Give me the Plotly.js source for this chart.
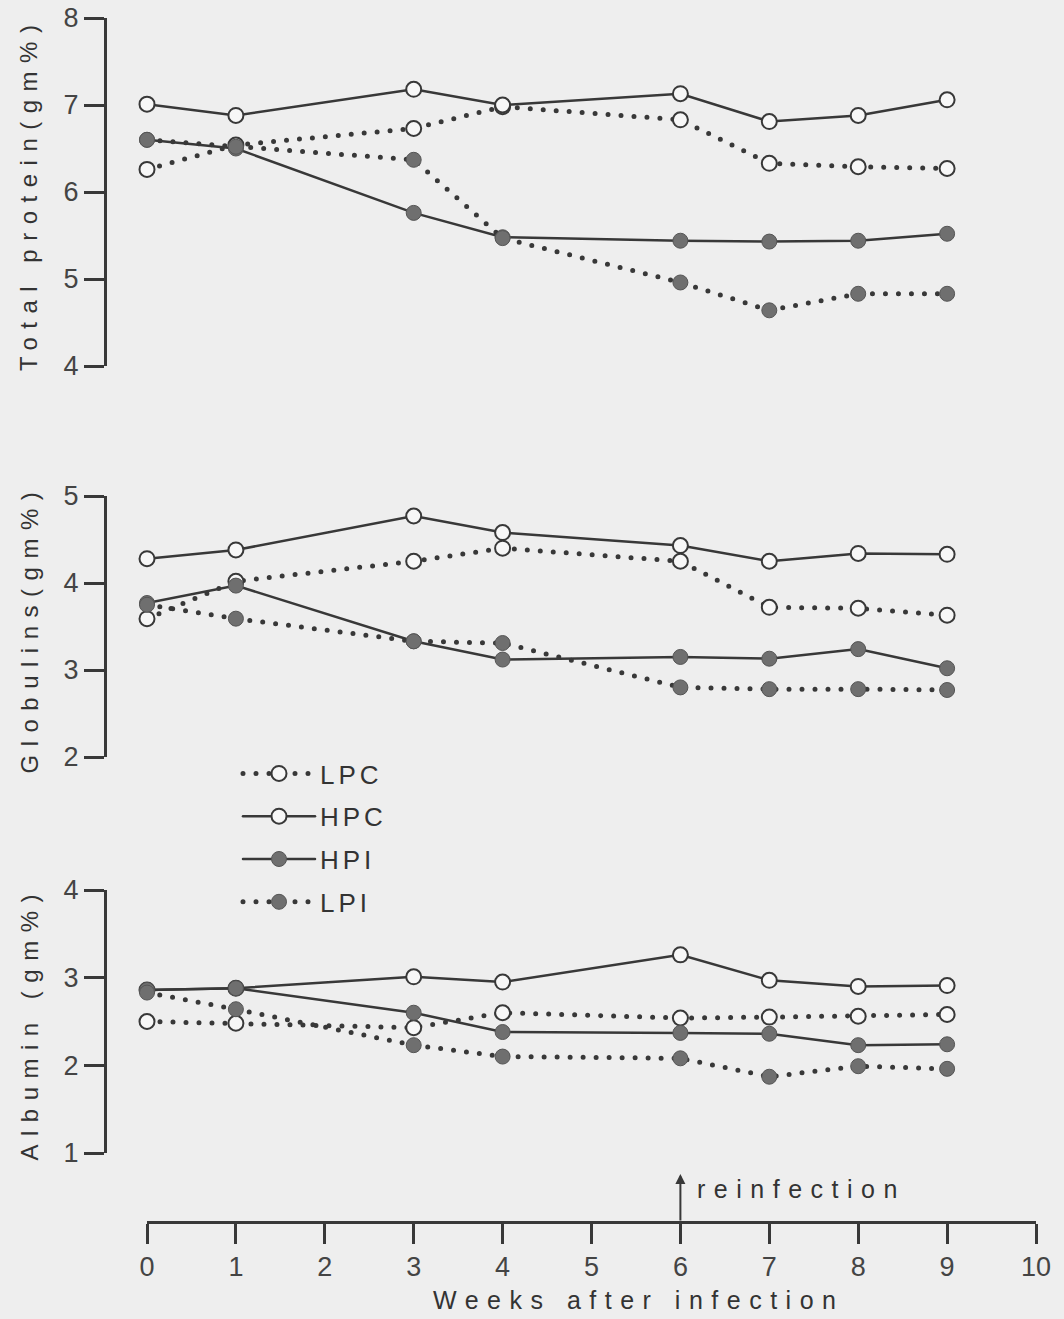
<!DOCTYPE html>
<html>
<head>
<meta charset="utf-8">
<script src="https://cdn.plot.ly/plotly-3.0.1.min.js"></script>
<style>
  html, body { margin: 0; padding: 0; background: #eeeeee; }
  #chart { width: 1064px; height: 1319px; }
  .js-line { stroke-linecap: round; }
  .legendtext { letter-spacing: 4px; }
  .annotation-text { letter-spacing: 8.5px; }
</style>
</head>
<body>
<div id="chart"></div>
<script>
// ---- data ----
const weeks = [0, 1, 3, 4, 6, 7, 8, 9];
const reinfectionWeek = 6;
const xTicks = [0, 1, 2, 3, 4, 5, 6, 7, 8, 9, 10];

// Total protein (gm%)
const totalLPC = [6.26, 6.54, 6.73, 6.98, 6.83, 6.33, 6.29, 6.27];
const totalHPC = [7.01, 6.88, 7.18, 7.00, 7.13, 6.81, 6.88, 7.06];
const totalHPI = [6.60, 6.50, 5.76, 5.48, 5.44, 5.43, 5.44, 5.52];
const totalLPI = [6.60, 6.52, 6.37, 5.47, 4.96, 4.64, 4.83, 4.83];

// Globulins (gm%)
const globLPC = [3.59, 4.02, 4.25, 4.40, 4.25, 3.72, 3.71, 3.63];
const globHPC = [4.28, 4.38, 4.77, 4.58, 4.43, 4.25, 4.34, 4.33];
const globHPI = [3.77, 3.97, 3.33, 3.12, 3.15, 3.13, 3.24, 3.02];
const globLPI = [3.75, 3.59, 3.33, 3.31, 2.80, 2.78, 2.78, 2.77];

// Albumin (gm%)
const albLPC = [2.50, 2.48, 2.43, 2.60, 2.54, 2.55, 2.56, 2.58];
const albHPC = [2.86, 2.88, 3.01, 2.95, 3.26, 2.97, 2.90, 2.91];
const albHPI = [2.86, 2.88, 2.60, 2.38, 2.37, 2.36, 2.23, 2.24];
const albLPI = [2.83, 2.64, 2.23, 2.10, 2.08, 1.87, 1.99, 1.96];

const seriesNames = ['LPC', 'HPC', 'HPI', 'LPI'];
const panelTitles = ['Total protein(gm%)', 'Globulins(gm%)', 'Albumin (gm%)'];
const panels = [
  { axis: 'y',  data: [totalLPC, totalHPC, totalHPI, totalLPI] },
  { axis: 'y2', data: [globLPC, globHPC, globHPI, globLPI] },
  { axis: 'y3', data: [albLPC, albHPC, albHPI, albLPI] }
];

// ---- styles ----
const INK = '#383838';
const styles = {
  LPC: { dash: '0px,13px', width: 5, fill: '#f7f7f7', mline: INK, mwidth: 2 },
  HPC: { dash: 'solid', width: 2.5, fill: '#f7f7f7', mline: INK, mwidth: 2 },
  HPI: { dash: 'solid', width: 2.5, fill: '#6f6f6f', mline: '#555555', mwidth: 1 },
  LPI: { dash: '0px,13px', width: 5, fill: '#6f6f6f', mline: '#555555', mwidth: 1 }
};

const traces = [];
panels.forEach((p, pi) => {
  p.data.forEach((vals, si) => {
    const name = seriesNames[si];
    const s = styles[name];
    traces.push({
      type: 'scatter',
      mode: 'lines+markers',
      x: weeks,
      y: vals,
      xaxis: 'x',
      yaxis: p.axis,
      name: name,
      legendgroup: name,
      showlegend: pi === 0,
      cliponaxis: false,
      line: { color: INK, width: s.width, dash: s.dash },
      marker: { symbol: 'circle', size: 15, color: s.fill, line: { color: s.mline, width: s.mwidth } }
    });
  });
});

const W = 1064, H = 1319;
const px = v => v / W;
const py = v => (H - v) / H;
const FONT = 'Liberation Sans, Arial, sans-serif';

function yAx(range, top, bottom) {
  return {
    range: range,
    domain: [py(bottom), py(top)],
    anchor: 'free',
    position: px(105),
    showline: true, linewidth: 3, linecolor: INK,
    ticks: 'outside', ticklen: 20, tickwidth: 3, tickcolor: INK,
    dtick: 1,
    tickfont: { family: FONT, size: 27, color: '#444' },
    showgrid: false, zeroline: false, fixedrange: true
  };
}

const yBounds = [[18, 366], [496, 757], [890, 1153]];

function yTitle(text, bounds) {
  return {
    x: px(29), xref: 'paper', y: py((bounds[0] + bounds[1]) / 2 + 2), yref: 'paper',
    xanchor: 'center', yanchor: 'middle', textangle: -90,
    text: text, showarrow: false,
    font: { family: FONT, size: 24, color: '#333' }
  };
}

const layout = {
  width: W, height: H,
  margin: { l: 0, r: 0, t: 0, b: 0 },
  paper_bgcolor: '#eeeeee',
  plot_bgcolor: 'rgba(0,0,0,0)',
  showlegend: true,
  legend: {
    x: px(238), y: py(750), xanchor: 'left', yanchor: 'top',
    bgcolor: 'rgba(0,0,0,0)',
    font: { family: FONT, size: 26, color: '#333' },
    traceorder: 'grouped', tracegroupgap: 6,
    itemwidth: 72
  },
  xaxis: {
    range: [0, 10],
    domain: [px(147), px(1036)],
    anchor: 'free',
    position: py(1222),
    tickvals: xTicks,
    showline: true, linewidth: 3, linecolor: INK,
    ticks: 'outside', ticklen: 20, tickwidth: 3, tickcolor: INK,
    tickfont: { family: FONT, size: 27, color: '#444' },
    showgrid: false, zeroline: false, fixedrange: true
  },
  yaxis: yAx([4, 8], yBounds[0][0], yBounds[0][1]),
  yaxis2: yAx([2, 5], yBounds[1][0], yBounds[1][1]),
  yaxis3: yAx([1, 4], yBounds[2][0], yBounds[2][1]),
  annotations: [
    yTitle(panelTitles[0], yBounds[0]),
    yTitle(panelTitles[1], yBounds[1]),
    yTitle(panelTitles[2], yBounds[2]),
    {
      x: reinfectionWeek, xref: 'x', y: py(1174), yref: 'paper',
      text: '', showarrow: true, ax: 0, ay: 48, axref: 'pixel', ayref: 'pixel',
      arrowhead: 2, arrowsize: 1, arrowwidth: 2, arrowcolor: INK
    },
    {
      x: reinfectionWeek, xref: 'x', y: py(1189), yref: 'paper',
      xanchor: 'left', yanchor: 'middle', xshift: 15,
      text: 'reinfection', showarrow: false,
      font: { family: FONT, size: 25, color: '#333' }
    },
    {
      x: px(638), xref: 'paper', y: py(1300), yref: 'paper',
      xanchor: 'center', yanchor: 'middle',
      text: 'Weeks after infection', showarrow: false,
      font: { family: FONT, size: 25, color: '#333' }
    }
  ]
};

Plotly.newPlot('chart', traces, layout, { staticPlot: true, displayModeBar: false });
</script>
</body>
</html>
